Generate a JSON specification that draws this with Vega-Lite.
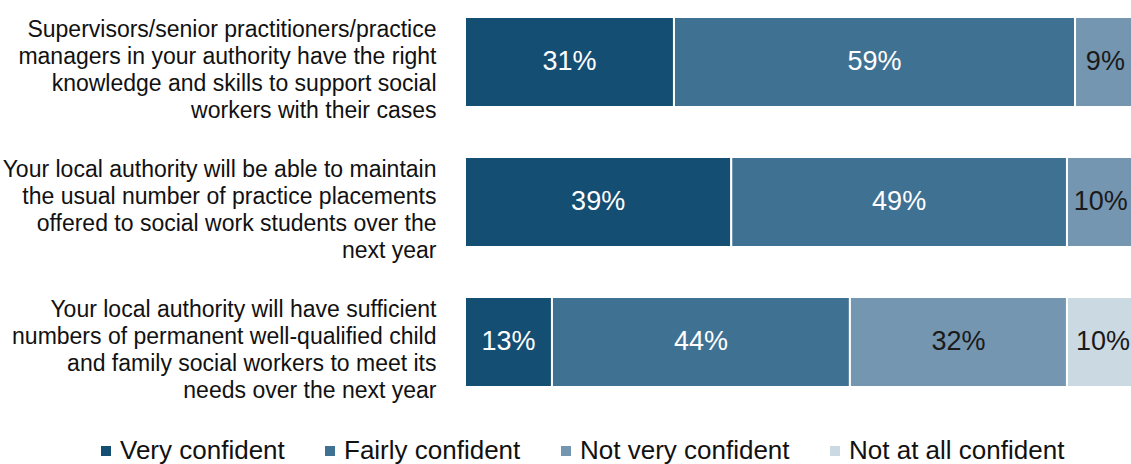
{
  "$schema": "https://vega.github.io/schema/vega-lite/v6.json",
  "autosize": {"type": "none"},
  "width": 666,
  "height": 384,
  "padding": {"left": 465, "top": 10, "right": 0, "bottom": 70},
  "background": "white",
  "config": {"view": {"stroke": null}, "font": "Liberation Sans"},
  "data": {
    "values": [
      {"q": "Supervisors/senior practitioners/practice|managers in your authority have the right|knowledge and skills to support social|workers with their cases", "qi": 1, "cat": "Very confident", "o": 1, "value": 31, "label": "31%"},
      {"q": "Supervisors/senior practitioners/practice|managers in your authority have the right|knowledge and skills to support social|workers with their cases", "qi": 1, "cat": "Fairly confident", "o": 2, "value": 59.5, "label": "59%"},
      {"q": "Supervisors/senior practitioners/practice|managers in your authority have the right|knowledge and skills to support social|workers with their cases", "qi": 1, "cat": "Not very confident", "o": 3, "value": 9, "label": "9%"},
      {"q": "Supervisors/senior practitioners/practice|managers in your authority have the right|knowledge and skills to support social|workers with their cases", "qi": 1, "cat": "Not at all confident", "o": 4, "value": 0.5, "label": ""},
      {"q": "Your local authority will be able to maintain|the usual number of practice placements|offered to social work students over the|next year", "qi": 2, "cat": "Very confident", "o": 1, "value": 39.5, "label": "39%"},
      {"q": "Your local authority will be able to maintain|the usual number of practice placements|offered to social work students over the|next year", "qi": 2, "cat": "Fairly confident", "o": 2, "value": 49.8, "label": "49%"},
      {"q": "Your local authority will be able to maintain|the usual number of practice placements|offered to social work students over the|next year", "qi": 2, "cat": "Not very confident", "o": 3, "value": 10, "label": "10%"},
      {"q": "Your local authority will be able to maintain|the usual number of practice placements|offered to social work students over the|next year", "qi": 2, "cat": "Not at all confident", "o": 4, "value": 0.7, "label": ""},
      {"q": "Your local authority will have sufficient|numbers of permanent well-qualified child|and family social workers to meet its|needs over the next year", "qi": 3, "cat": "Very confident", "o": 1, "value": 12.9, "label": "13%"},
      {"q": "Your local authority will have sufficient|numbers of permanent well-qualified child|and family social workers to meet its|needs over the next year", "qi": 3, "cat": "Fairly confident", "o": 2, "value": 44.2, "label": "44%"},
      {"q": "Your local authority will have sufficient|numbers of permanent well-qualified child|and family social workers to meet its|needs over the next year", "qi": 3, "cat": "Not very confident", "o": 3, "value": 32.2, "label": "32%"},
      {"q": "Your local authority will have sufficient|numbers of permanent well-qualified child|and family social workers to meet its|needs over the next year", "qi": 3, "cat": "Not at all confident", "o": 4, "value": 10.7, "label": "10%"}
    ]
  },
  "transform": [
    {"stack": "value", "groupby": ["q"], "sort": [{"field": "o"}], "as": ["x0", "x1"]},
    {"calculate": "(datum.x0 + datum.x1) / 2", "as": "mid"}
  ],
  "encoding": {
    "y": {
      "field": "q",
      "type": "nominal",
      "sort": {"field": "qi"},
      "title": null,
      "scale": {"paddingInner": 0.357, "paddingOuter": 0.05},
      "axis": {
        "domain": false,
        "ticks": false,
        "labelExpr": "split(datum.label, '|')",
        "labelFontSize": 23,
        "labelLineHeight": 27,
        "labelColor": "#111111",
        "labelPadding": 29,
        "labelLimit": 0,
        "labelOffset": -32,
        "labelFont": "Liberation Sans"
      }
    }
  },
  "layer": [
    {
      "mark": {"type": "bar", "clip": true, "stroke": "white", "strokeWidth": 2},
      "encoding": {
        "x": {"field": "x0", "type": "quantitative", "scale": {"domain": [0, 98.8], "nice": false}, "axis": null},
        "x2": {"field": "x1"},
        "color": {
          "field": "cat",
          "type": "nominal",
          "sort": ["Very confident", "Fairly confident", "Not very confident", "Not at all confident"],
          "scale": {
            "domain": ["Very confident", "Fairly confident", "Not very confident", "Not at all confident"],
            "range": ["#144e72", "#3f7193", "#7596b1", "#cbd9e3"]
          },
          "legend": {
            "orient": "none",
            "direction": "horizontal",
            "legendX": -372,
            "legendY": 428,
            "title": null,
            "symbolType": "square",
            "symbolSize": 100,
            "symbolStrokeWidth": 0,
            "labelFontSize": 26,
            "labelFont": "Liberation Sans",
            "labelColor": "#111111",
            "labelOffset": 1,
            "labelLimit": 0,
            "columnPadding": 32
          }
        }
      }
    },
    {
      "mark": {"type": "text", "fontSize": 27, "font": "Liberation Sans", "baseline": "middle"},
      "encoding": {
        "x": {"field": "mid", "type": "quantitative"},
        "text": {"field": "label"},
        "color": {
          "condition": {"test": "datum.o <= 2", "value": "white"},
          "value": "#1a1a1a"
        }
      }
    }
  ]
}
